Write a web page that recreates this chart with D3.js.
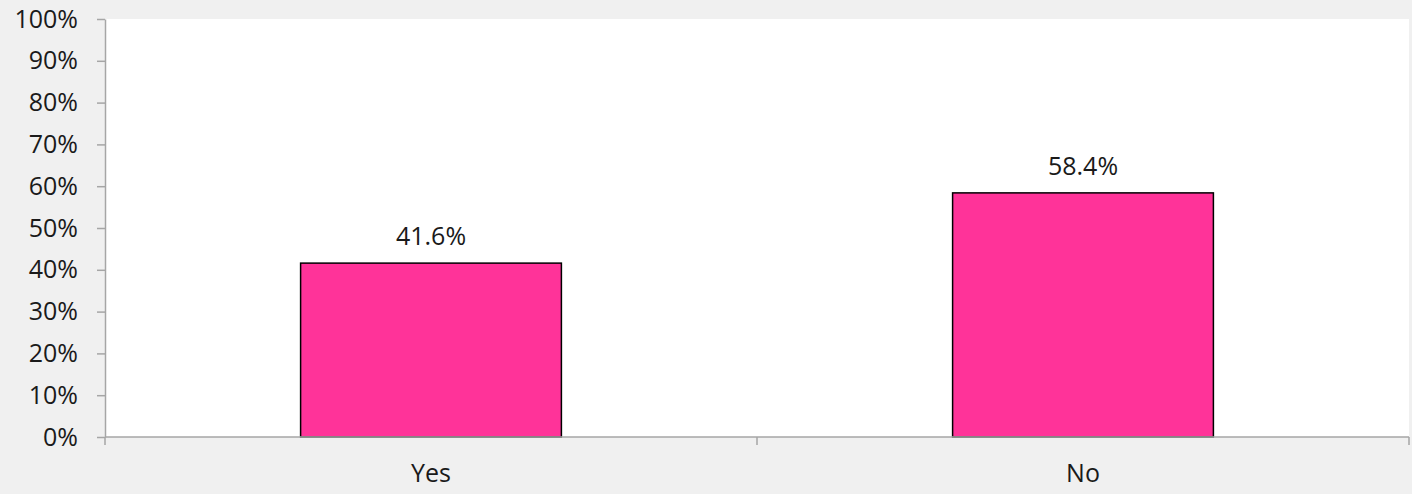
<!DOCTYPE html>
<html>
<head>
<meta charset="utf-8">
<script src="https://cdn.jsdelivr.net/npm/d3@7"></script>
<style>
  html, body { margin: 0; padding: 0; background: #f0f0f0; }
  svg { display: block; font-family: "Open Sans", "DejaVu Sans", sans-serif; }
</style>
</head>
<body>
<svg id="chart" width="1412" height="494"></svg>
<script>
const categories = ['Yes', 'No'];
const values = [41.6, 58.4];
const yTicks = [0, 10, 20, 30, 40, 50, 60, 70, 80, 90, 100];

const svg = d3.select('#chart');
const margin = { top: 19, right: 3, bottom: 57, left: 105 };
const width = +svg.attr('width');
const height = +svg.attr('height');
const fontSize = 25;

// white plot area
svg.append('rect')
  .attr('x', margin.left)
  .attr('y', margin.top)
  .attr('width', width - margin.left - margin.right)
  .attr('height', height - margin.top - margin.bottom)
  .attr('fill', '#ffffff');

const x = d3.scaleBand()
  .domain(categories)
  .range([margin.left, width - margin.right])
  .padding(0);

const y = d3.scaleLinear()
  .domain([0, 100])
  .range([height - margin.bottom, margin.top]);

const barW = x.bandwidth() * 0.4;

// bars
svg.selectAll('.bar')
  .data(categories)
  .enter()
  .append('rect')
  .attr('x', d => x(d) + (x.bandwidth() - barW) / 2)
  .attr('y', (d, i) => y(values[i]))
  .attr('width', barW)
  .attr('height', (d, i) => y(0) - y(values[i]))
  .attr('fill', '#ff3399')
  .attr('stroke', '#000')
  .attr('stroke-width', 1.5);

// value labels
svg.selectAll('.val')
  .data(categories)
  .enter()
  .append('text')
  .attr('x', d => x(d) + x.bandwidth() / 2)
  .attr('y', (d, i) => y(values[i]) - 18)
  .attr('text-anchor', 'middle')
  .attr('font-size', fontSize)
  .attr('fill', '#1a1a1a')
  .text((d, i) => values[i].toFixed(1) + '%');

// y axis
const yAxis = svg.append('g')
  .attr('transform', `translate(${margin.left},0)`)
  .call(d3.axisLeft(y).tickValues(yTicks).tickFormat(d => d + '%').tickSize(8).tickSizeOuter(0).tickPadding(19));
yAxis.selectAll('line, path').attr('stroke', '#a6a6a6').attr('stroke-width', 1.5);
yAxis.selectAll('text').attr('font-size', fontSize).attr('fill', '#1a1a1a').attr('font-family', '"Open Sans", sans-serif');

// x axis with ticks at category boundaries
const xAxis = svg.append('g')
  .attr('transform', `translate(0,${y(0)})`);
xAxis.append('line')
  .attr('x1', margin.left).attr('x2', width - margin.right)
  .attr('y1', 0).attr('y2', 0)
  .attr('stroke', '#a6a6a6').attr('stroke-width', 1.5);
const bounds = categories.map(d => x(d)).concat([x(categories[categories.length - 1]) + x.bandwidth()]);
xAxis.selectAll('.xtick')
  .data(bounds)
  .enter()
  .append('line')
  .attr('x1', d => d).attr('x2', d => d)
  .attr('y1', 0).attr('y2', 8)
  .attr('stroke', '#a6a6a6').attr('stroke-width', 1.5);
xAxis.selectAll('.xlab')
  .data(categories)
  .enter()
  .append('text')
  .attr('x', d => x(d) + x.bandwidth() / 2)
  .attr('y', 45)
  .attr('text-anchor', 'middle')
  .attr('font-size', fontSize)
  .attr('fill', '#1a1a1a')
  .text(d => d);
</script>
</body>
</html>
